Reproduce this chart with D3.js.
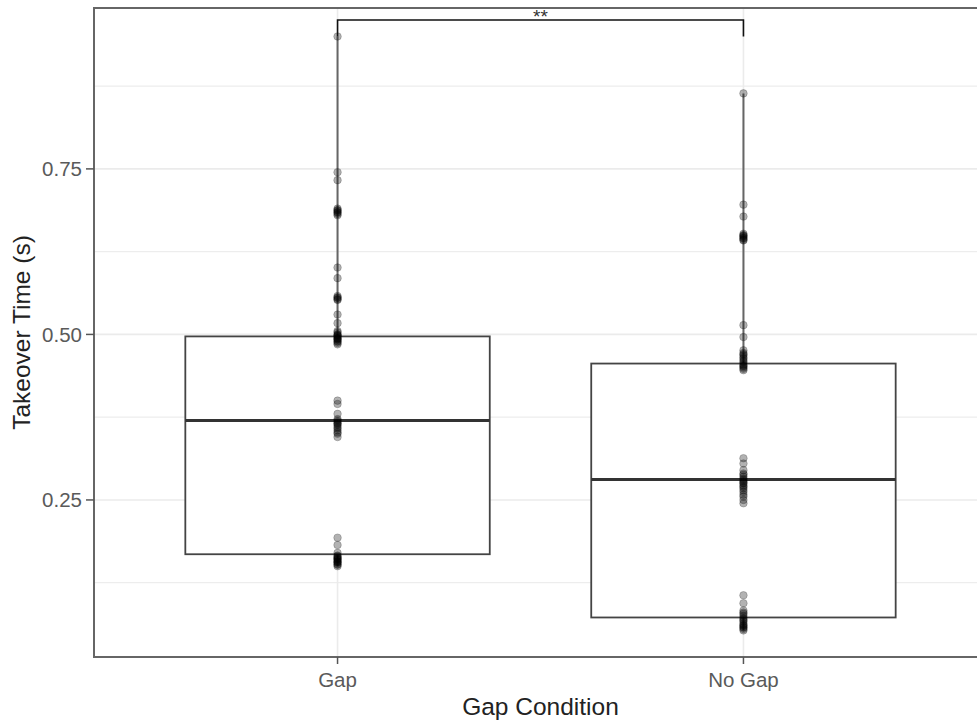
<!DOCTYPE html>
<html>
<head>
<meta charset="utf-8">
<script src="https://cdn.jsdelivr.net/npm/d3@7"></script>
<style>
  body { margin: 0; background: #fff; }
  text { font-family: "Liberation Sans", Arial, sans-serif; }
</style>
</head>
<body>
<div id="chart"></div>
<script>
// Box plot of takeover time by gap condition

var categories = ["Gap", "No Gap"];

// box statistics
var q1 = [0.168, 0.0725];
var median = [0.370, 0.281];
var q3 = [0.497, 0.456];
var whiskerLow = [0.150, 0.053];
var whiskerHigh = [0.950, 0.864];

// raw observations (drawn over the boxes)
var gapValues = [0.95, 0.745, 0.733, 0.69, 0.688, 0.687, 0.685, 0.684, 0.682, 0.68, 0.601, 0.585,
    0.558, 0.556, 0.555, 0.553, 0.552, 0.53, 0.517, 0.505, 0.503, 0.50, 0.499, 0.498, 0.497, 0.495,
    0.494, 0.493, 0.492, 0.49, 0.489, 0.487, 0.485, 0.40, 0.395, 0.38, 0.372, 0.37, 0.368, 0.366,
    0.365, 0.363, 0.36, 0.358, 0.355, 0.352, 0.35, 0.345, 0.193, 0.182, 0.17, 0.166, 0.165, 0.163,
    0.162, 0.161, 0.16, 0.158, 0.157, 0.156, 0.155, 0.153, 0.152, 0.15];
var noGapValues = [0.864, 0.696, 0.678, 0.652, 0.65, 0.649, 0.648, 0.646, 0.645, 0.643, 0.642,
    0.514, 0.496, 0.476, 0.472, 0.47, 0.468, 0.465, 0.463, 0.46, 0.458, 0.455, 0.453, 0.452, 0.45,
    0.448, 0.446, 0.313, 0.305, 0.295, 0.29, 0.288, 0.285, 0.282, 0.28, 0.278, 0.276, 0.275, 0.272,
    0.27, 0.268, 0.265, 0.262, 0.258, 0.255, 0.25, 0.245, 0.106, 0.094, 0.083, 0.08, 0.078, 0.075,
    0.072, 0.07, 0.068, 0.066, 0.063, 0.061, 0.06, 0.058, 0.057, 0.055, 0.053];

var yTicks = [0.25, 0.50, 0.75];
var yMinor = [0.125, 0.375, 0.625, 0.875];
var sigLabel = "**";

var width = 977, height = 726;
var panel = {left: 94, top: 8, right: 987, bottom: 657};

var svg = d3.select("#chart")
    .append("svg")
    .attr("width", width)
    .attr("height", height);

var x = d3.scalePoint()
    .domain(categories)
    .range([panel.left, panel.right])
    .padding(0.6);

var y = d3.scaleLinear()
    .domain([0.0128, 0.993])
    .range([panel.bottom, panel.top]);

var boxWidth = x.step() * 0.75;

// grid lines
var grid = svg.append("g");
grid.selectAll(".minor")
    .data(yMinor)
    .enter()
    .append("line")
    .attr("x1", panel.left).attr("x2", panel.right)
    .attr("y1", function(d) { return y(d); })
    .attr("y2", function(d) { return y(d); })
    .attr("stroke", "#ededed")
    .attr("stroke-width", 1.2);
grid.selectAll(".major")
    .data(yTicks)
    .enter()
    .append("line")
    .attr("x1", panel.left).attr("x2", panel.right)
    .attr("y1", function(d) { return y(d); })
    .attr("y2", function(d) { return y(d); })
    .attr("stroke", "#ebebeb")
    .attr("stroke-width", 1.6);
grid.selectAll(".vmajor")
    .data(categories)
    .enter()
    .append("line")
    .attr("y1", panel.top).attr("y2", panel.bottom)
    .attr("x1", function(d) { return x(d); })
    .attr("x2", function(d) { return x(d); })
    .attr("stroke", "#ebebeb")
    .attr("stroke-width", 1.6);

// boxes
var boxes = svg.append("g")
    .selectAll("g")
    .data(categories)
    .enter()
    .append("g");

boxes.append("line")
    .attr("x1", function(d) { return x(d); })
    .attr("x2", function(d) { return x(d); })
    .attr("y1", function(d, i) { return y(q3[i]); })
    .attr("y2", function(d, i) { return y(whiskerHigh[i]); })
    .attr("stroke", "#666")
    .attr("stroke-width", 2);
boxes.append("line")
    .attr("x1", function(d) { return x(d); })
    .attr("x2", function(d) { return x(d); })
    .attr("y1", function(d, i) { return y(q1[i]); })
    .attr("y2", function(d, i) { return y(whiskerLow[i]); })
    .attr("stroke", "#666")
    .attr("stroke-width", 2);
boxes.append("rect")
    .attr("x", function(d) { return x(d) - boxWidth / 2; })
    .attr("width", boxWidth)
    .attr("y", function(d, i) { return y(q3[i]); })
    .attr("height", function(d, i) { return y(q1[i]) - y(q3[i]); })
    .attr("fill", "#fff")
    .attr("stroke", "#444")
    .attr("stroke-width", 1.8);
boxes.append("line")
    .attr("x1", function(d) { return x(d) - boxWidth / 2; })
    .attr("x2", function(d) { return x(d) + boxWidth / 2; })
    .attr("y1", function(d, i) { return y(median[i]); })
    .attr("y2", function(d, i) { return y(median[i]); })
    .attr("stroke", "#333")
    .attr("stroke-width", 3);

// points
var pointData = gapValues.map(function(v) { return {cat: "Gap", v: v}; })
    .concat(noGapValues.map(function(v) { return {cat: "No Gap", v: v}; }));
svg.append("g")
    .selectAll("circle")
    .data(pointData)
    .enter()
    .append("circle")
    .attr("cx", function(d) { return x(d.cat); })
    .attr("cy", function(d) { return y(d.v); })
    .attr("r", 3.8)
    .attr("fill", "rgba(0,0,0,0.3)")
    .attr("stroke", "rgba(0,0,0,0.25)")
    .attr("stroke-width", 0.8);

// panel border
svg.append("rect")
    .attr("x", panel.left)
    .attr("y", panel.top)
    .attr("width", panel.right - panel.left)
    .attr("height", panel.bottom - panel.top)
    .attr("fill", "none")
    .attr("stroke", "#666")
    .attr("stroke-width", 2);

// significance bracket
var bracketY = 20;
svg.append("path")
    .attr("d", "M" + x(categories[0]) + "," + y(whiskerHigh[0]) +
        "V" + bracketY + "H" + x(categories[1]) + "V" + (y(whiskerHigh[0])))
    .attr("fill", "none")
    .attr("stroke", "#111")
    .attr("stroke-width", 1.6);
svg.append("text")
    .attr("x", (x(categories[0]) + x(categories[1])) / 2)
    .attr("y", bracketY + 3)
    .attr("text-anchor", "middle")
    .style("font-size", "19px")
    .attr("fill", "#333")
    .text(sigLabel);

// y axis
var yAxis = svg.append("g");
yAxis.selectAll("line")
    .data(yTicks)
    .enter()
    .append("line")
    .attr("x1", panel.left - 8).attr("x2", panel.left)
    .attr("y1", function(d) { return y(d); })
    .attr("y2", function(d) { return y(d); })
    .attr("stroke", "#555")
    .attr("stroke-width", 1.5);
yAxis.selectAll("text")
    .data(yTicks)
    .enter()
    .append("text")
    .attr("x", panel.left - 12)
    .attr("y", function(d) { return y(d); })
    .attr("dy", "0.36em")
    .attr("text-anchor", "end")
    .style("font-size", "20.5px")
    .attr("fill", "#5a5a5a")
    .text(function(d) { return d3.format(".2f")(d); });

// x axis
var xAxis = svg.append("g");
xAxis.selectAll("line")
    .data(categories)
    .enter()
    .append("line")
    .attr("x1", function(d) { return x(d); })
    .attr("x2", function(d) { return x(d); })
    .attr("y1", panel.bottom).attr("y2", panel.bottom + 7)
    .attr("stroke", "#555")
    .attr("stroke-width", 1.5);
xAxis.selectAll("text")
    .data(categories)
    .enter()
    .append("text")
    .attr("x", function(d) { return x(d); })
    .attr("y", 687)
    .attr("text-anchor", "middle")
    .style("font-size", "20.5px")
    .attr("fill", "#5a5a5a")
    .text(function(d) { return d; });

// axis titles
svg.append("text")
    .attr("x", (panel.left + panel.right) / 2)
    .attr("y", 715)
    .attr("text-anchor", "middle")
    .style("font-size", "24.5px")
    .attr("fill", "#222")
    .text("Gap Condition");
svg.append("text")
    .attr("transform", "translate(30," + ((panel.top + panel.bottom) / 2) + ") rotate(-90)")
    .attr("text-anchor", "middle")
    .style("font-size", "24.5px")
    .attr("fill", "#222")
    .text("Takeover Time (s)");
</script>
</body>
</html>
